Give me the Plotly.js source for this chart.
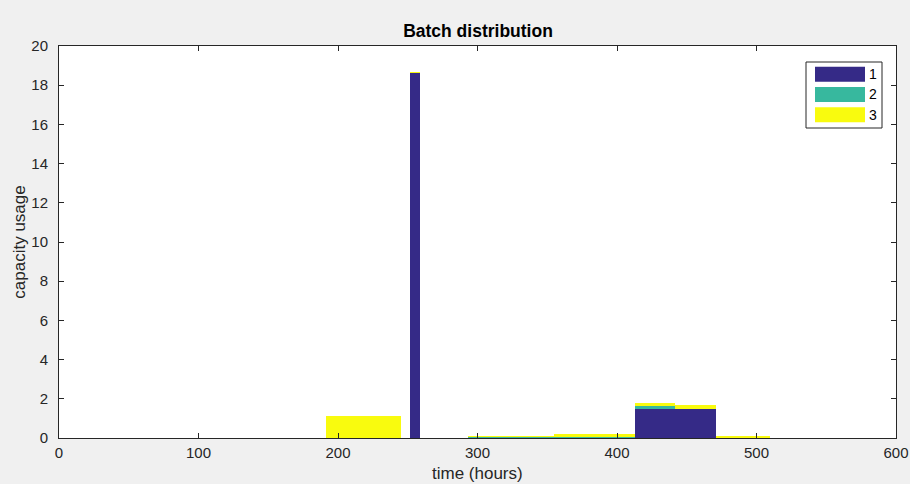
<!DOCTYPE html>
<html>
<head>
<meta charset="utf-8">
<script src="https://cdn.plot.ly/plotly-3.0.1.min.js"></script>
<style>
html,body{margin:0;padding:0;background:#f0f0f0;}
#chart{width:910px;height:484px;}
</style>
</head>
<body>
<div id="chart"></div>
<script>
// Time segments (hours): start and end of each batch interval
var segStart = [191.5, 251.5, 293, 355, 413, 441.5, 471];
var segEnd   = [245.5, 258.5, 355, 413, 441.5, 471, 510];
// Capacity usage per batch in each segment
var batch1 = [0, 18.62, 0, 0, 1.5, 1.5, 0];
var batch2 = [0, 0, 0.05, 0.05, 0.12, 0, 0];
var batch3 = [1.1, 0.05, 0.06, 0.15, 0.17, 0.2, 0.1];
var seriesNames = ['1', '2', '3'];
var seriesColors = ['#352a87', '#37b89e', '#f9fb0e'];
var xTicks = [0, 100, 200, 300, 400, 500, 600];
var yTicks = [0, 2, 4, 6, 8, 10, 12, 14, 16, 18, 20];
var xTitle = 'time (hours)';
var yTitle = 'capacity usage';

var FONT = 'Liberation Sans, Arial, Helvetica, sans-serif';
var M = {l: 59, r: 14, t: 46, b: 46};
var W = 910, H = 484;
var pw = W - M.l - M.r, ph = H - M.t - M.b;
function px(x){ return (x - M.l) / pw; }
function py(y){ return (H - M.b - y) / ph; }

var centers = segStart.map(function(s, i){ return (s + segEnd[i]) / 2; });
var widths = segStart.map(function(s, i){ return segEnd[i] - s; });
var allSeries = [batch1, batch2, batch3];

var traces = allSeries.map(function(vals, k){
  return {
    type: 'bar',
    x: centers,
    y: vals,
    width: widths,
    name: seriesNames[k],
    marker: {color: seriesColors[k], line: {width: 0}},
    hoverinfo: 'x+y+name',
    showlegend: false
  };
});

// Legend drawn as box + wide swatches (MATLAB style)
var shapes = [{
  type: 'rect', xref: 'paper', yref: 'paper', layer: 'above',
  x0: px(806), x1: px(882), y0: py(128), y1: py(62),
  fillcolor: '#ffffff', line: {color: '#262626', width: 1}
}];
var annotations = [];
seriesNames.forEach(function(n, k){
  var cy = 74.2 + k * 20.3;
  shapes.push({
    type: 'rect', xref: 'paper', yref: 'paper', layer: 'above',
    x0: px(815), x1: px(865), y0: py(cy + 7.5), y1: py(cy - 7.5),
    fillcolor: seriesColors[k], line: {width: 0}
  });
  annotations.push({
    xref: 'paper', yref: 'paper', x: px(867), y: py(cy),
    xanchor: 'left', yanchor: 'middle', showarrow: false,
    text: n, font: {family: FONT, size: 14, color: '#000000'}
  });
});
// x-axis title, placed low like the reference but kept inside the window
annotations.push({
  xref: 'paper', yref: 'paper', x: 0.5, y: py(484),
  xanchor: 'center', yanchor: 'bottom', showarrow: false,
  borderpad: 0,
  text: xTitle, font: {family: FONT, size: 17, color: '#262626'}
});

var axisCommon = {
  showgrid: false,
  zeroline: false,
  showline: true,
  linecolor: '#262626',
  linewidth: 1,
  mirror: 'allticks',
  ticks: 'inside',
  ticklen: 5,
  tickcolor: '#262626',
  tickfont: {family: FONT, size: 15, color: '#262626'}
};

var layout = {
  width: W,
  height: H,
  paper_bgcolor: '#f0f0f0',
  plot_bgcolor: '#ffffff',
  margin: M,
  barmode: 'stack',
  bargap: 0,
  showlegend: false,
  shapes: shapes,
  annotations: annotations,
  title: {
    text: '<b>Batch distribution</b>',
    x: 478 / W,
    xanchor: 'center',
    y: 1 - 31 / H,
    yanchor: 'middle',
    font: {family: FONT, size: 17.5, color: '#000000'}
  },
  xaxis: Object.assign({}, axisCommon, {
    range: [0, 600],
    tickvals: xTicks,
    ticktext: xTicks.map(String),
    automargin: false,
    ticklabelstandoff: 1
  }),
  yaxis: Object.assign({}, axisCommon, {
    range: [0, 20],
    tickvals: yTicks,
    ticktext: yTicks.map(String),
    automargin: false,
    ticklabelstandoff: 7,
    title: {text: yTitle, standoff: 1,
      font: {family: FONT, size: 17, color: '#262626'}}
  })
};

Plotly.newPlot('chart', traces, layout, {displayModeBar: false, staticPlot: true});
</script>
</body>
</html>
